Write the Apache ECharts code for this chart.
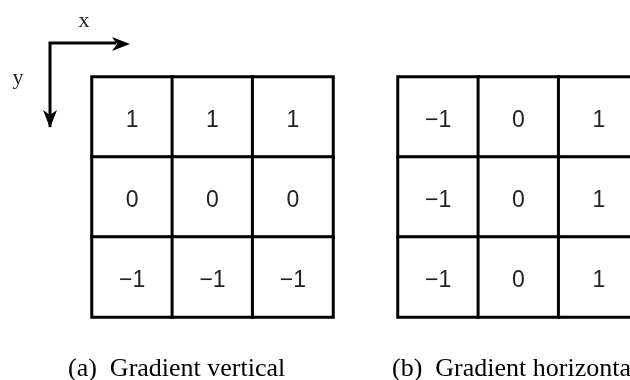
<!DOCTYPE html>
<html>
<head>
<meta charset="utf-8">
<script src="https://cdn.jsdelivr.net/npm/echarts@6/dist/echarts.min.js"></script>
<style>html,body{margin:0;padding:0;background:#fff;}#c{width:630px;height:380px;}</style>
</head>
<body>
<div id="c"></div>
<script>
const cols = ['0', '1', '2'];
const rows = ['0', '1', '2'];
const kernelVertical = [
  [1, 1, 1],
  [0, 0, 0],
  [-1, -1, -1]
];
const kernelHorizontal = [
  [-1, 0, 1],
  [-1, 0, 1],
  [-1, 0, 1]
];
const captions = ['(a)  Gradient vertical', '(b)  Gradient horizontal'];
const axisNames = ['x', 'y'];

function toCells(k) {
  const out = [];
  k.forEach((row, r) => row.forEach((v, c) => out.push([c, r, v])));
  return out;
}
function fmt(v) { return v < 0 ? '\u2212' + Math.abs(v) : String(v); }

const chart = echarts.init(document.getElementById('c'), null, {renderer: 'canvas'});
const grids = [
  {left: 92, top: 77, width: 241, height: 240, outerBoundsMode: 'none', containLabel: false},
  {left: 398, top: 77, width: 241, height: 240, outerBoundsMode: 'none', containLabel: false}
];
const kernels = [kernelVertical, kernelHorizontal];
const hidden = {show: false};
const serif = {fontFamily: 'Liberation Serif', fontSize: 26, fill: '#000'};
const axisFont = {fontFamily: 'Liberation Serif', fontSize: 22, fill: '#222'};
chart.setOption({
  animation: false,
  backgroundColor: '#fff',
  grid: grids,
  xAxis: grids.map((g, i) => ({type: 'category', data: cols, gridIndex: i, axisLine: hidden, axisTick: hidden, axisLabel: hidden, splitLine: hidden})),
  yAxis: grids.map((g, i) => ({type: 'category', data: rows, gridIndex: i, inverse: true, axisLine: hidden, axisTick: hidden, axisLabel: hidden, splitLine: hidden})),
  series: kernels.map((k, i) => ({
    type: 'heatmap',
    xAxisIndex: i,
    yAxisIndex: i,
    data: toCells(k),
    itemStyle: {color: '#fff', borderColor: '#000', borderWidth: 3},
    label: {
      show: true,
      formatter: p => fmt(p.value[2]),
      fontFamily: 'Liberation Sans',
      fontSize: 23,
      color: '#222',
      offset: [0, 4]
    },
    emphasis: {disabled: true}
  })),
  graphic: [
    {type: 'text', x: 68, y: 369, style: Object.assign({text: captions[0], verticalAlign: 'middle'}, serif)},
    {type: 'text', x: 392, y: 369, style: Object.assign({text: captions[1], verticalAlign: 'middle'}, serif)},
    {type: 'text', x: 84, y: 21, style: Object.assign({text: axisNames[0], align: 'center', verticalAlign: 'middle'}, axisFont)},
    {type: 'text', x: 18, y: 78, style: Object.assign({text: axisNames[1], align: 'center', verticalAlign: 'middle'}, axisFont)},
    {type: 'polyline', shape: {points: [[50, 127], [50, 43], [116, 43]]}, style: {stroke: '#000', lineWidth: 3, fill: null}},
    {type: 'polygon', shape: {points: [[130, 44], [112, 37], [117, 44], [112, 51]]}, style: {fill: '#000'}},
    {type: 'polygon', shape: {points: [[50, 128], [43, 110], [50, 115], [57, 110]]}, style: {fill: '#000'}}
  ]
});
</script>
</body>
</html>
